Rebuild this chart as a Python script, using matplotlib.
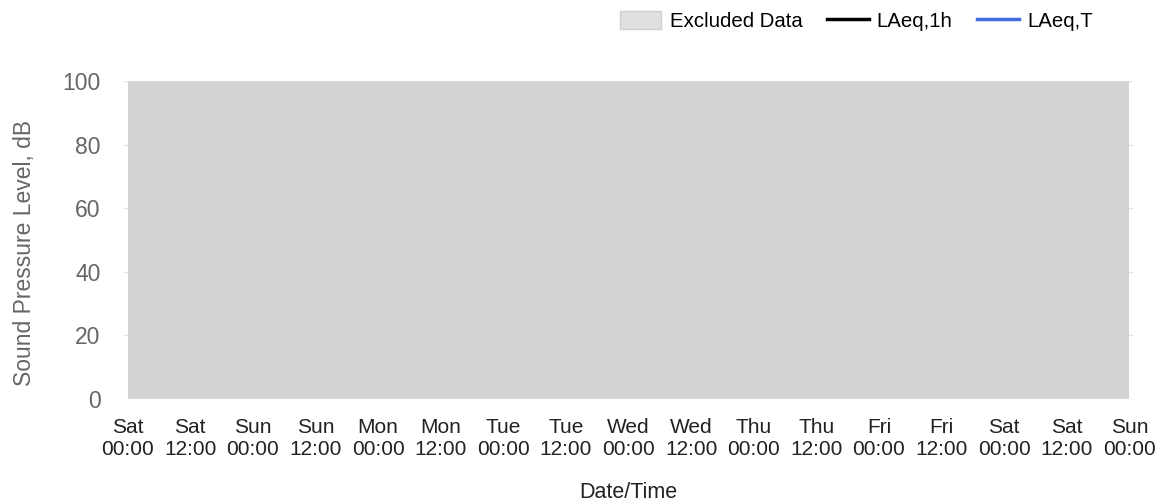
import numpy as np
import matplotlib
matplotlib.use('Agg')
import matplotlib.pyplot as plt
from matplotlib.patches import Patch

plt.rcParams['font.family'] = ['Liberation Sans', 'DejaVu Sans']

# x axis: hours from Sat 00:00, ticks every 12 h
tick_hours = np.arange(0, 193, 12)
tick_days = ['Sat', 'Sat', 'Sun', 'Sun', 'Mon', 'Mon', 'Tue', 'Tue', 'Wed',
             'Wed', 'Thu', 'Thu', 'Fri', 'Fri', 'Sat', 'Sat', 'Sun']
tick_times = ['00:00', '12:00'] * 8 + ['00:00']

# excluded period (whole week) and level series (no valid data)
excluded_start = 0
excluded_end = 192
laeq_1h_t = []
laeq_1h = []
laeq_t_t = []
laeq_t = []

y_ticks = [0, 20, 40, 60, 80, 100]

fig = plt.figure(figsize=(11.65, 5.03), dpi=100)
ax = fig.add_axes([124 / 1165, 1 - 399 / 503, 1009 / 1165, 318 / 503])

ax.axvspan(excluded_start, excluded_end, color='#d3d3d3', lw=0, zorder=1)
ax.plot(laeq_1h_t, laeq_1h, color='black', lw=2.5, zorder=3)
ax.plot(laeq_t_t, laeq_t, color='#4169e1', lw=2.5, zorder=3)

pad = 0.7
ax.set_xlim(excluded_start - pad, excluded_end + pad)
ax.set_ylim(0, 100)
ax.set_yticks(y_ticks)
ax.set_xticks(tick_hours)
ax.set_xticklabels([d + '\n' + t for d, t in zip(tick_days, tick_times)],
                   fontsize=15, color='#222222', linespacing=1.15)
ax.tick_params(axis='x', length=0, pad=14)
ax.tick_params(axis='y', length=0, pad=17, labelsize=16.5, labelcolor='#666666')
ax.grid(axis='y', color='#e4e4e4', lw=1, zorder=0)
ax.set_axisbelow(True)
for s in ax.spines.values():
    s.set_visible(False)

ax.set_ylabel('Sound Pressure Level, dB', fontsize=16.5, color='#666666')
ax.yaxis.set_label_coords(-88 / 1009, 0.46)
ax.set_xlabel('Date/Time', fontsize=15.5, color='#222222', labelpad=17)

handles = [Patch(facecolor='#e0e0e0', edgecolor='#d0d0d0'),
           plt.Line2D([], [], color='black', lw=2.5),
           plt.Line2D([], [], color='#4169e1', lw=2.5)]
fig.legend(handles, ['Excluded Data', 'LAeq,1h', 'LAeq,T'], ncol=3, frameon=False,
           loc='center right', bbox_to_anchor=(1093 / 1165, 1 - 21 / 503),
           fontsize=14.7, handlelength=2.05, handleheight=1.0, handletextpad=0.4,
           columnspacing=1.2, borderpad=0, borderaxespad=0)

fig.savefig('out.png', dpi=100)
